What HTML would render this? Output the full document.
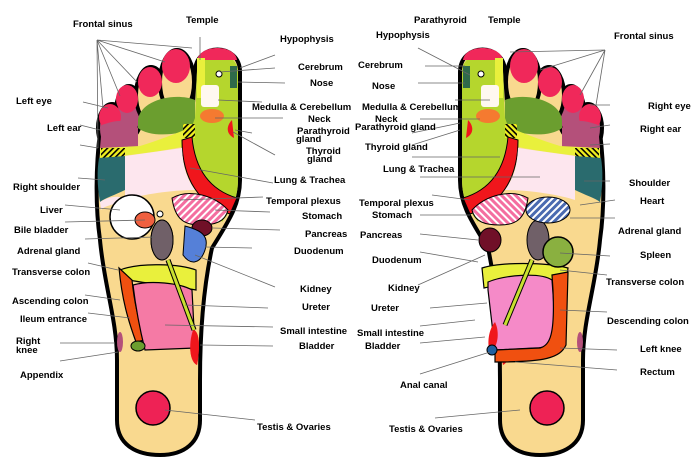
<!DOCTYPE html>
<html><head><meta charset="utf-8"><style>
html,body{margin:0;padding:0;background:#fff;}
svg{display:block;}
text{font-family:"Liberation Sans",sans-serif;font-weight:bold;font-size:9.5px;fill:#000;}
.l{stroke:#666;stroke-width:0.8;fill:none;}
</style></head><body>
<svg width="700" height="470" viewBox="0 0 700 470" xmlns="http://www.w3.org/2000/svg">
<defs>
<pattern id="hat" width="5" height="5" patternUnits="userSpaceOnUse" patternTransform="rotate(45)">
<rect width="5" height="5" fill="#f46ea0"/><rect width="2" height="5" fill="#fff"/></pattern>
<pattern id="hat2" width="5" height="5" patternUnits="userSpaceOnUse" patternTransform="rotate(45)">
<rect width="5" height="5" fill="#4a6ab0"/><rect width="2" height="5" fill="#fff"/></pattern>
<pattern id="yb" width="4" height="4" patternUnits="userSpaceOnUse" patternTransform="rotate(45)">
<rect width="4" height="4" fill="#f0f020"/><rect width="1.6" height="4" fill="#000"/></pattern>
<g id="foot">
 <path d="M100,132 C96,165 95,205 100,240 C104,285 117,320 117,360 L117,420 C117,446 138,455 160,455 C185,455 200,442 200,420 L200,380 C200,330 204,285 212,248 C228,222 240,205 240,180 L240,72 C240,42 195,42 195,72 L192,118 C170,128 125,122 100,132 Z" fill="#f9d98f" stroke="#000" stroke-width="4"/>
 <ellipse cx="112" cy="128" rx="14" ry="24" fill="#b4507a" stroke="#000" stroke-width="4"/>
 <ellipse cx="129" cy="112" rx="13" ry="26" fill="#b4507a" stroke="#000" stroke-width="4"/>
 <ellipse cx="151" cy="95" rx="15" ry="28" fill="#f9d98f" stroke="#000" stroke-width="4"/>
 <ellipse cx="177" cy="82" rx="17" ry="32" fill="#f9d98f" stroke="#000" stroke-width="4"/>
 <ellipse cx="110" cy="117" rx="11" ry="13" fill="#f0285a"/>
 <ellipse cx="127" cy="99" rx="11" ry="14" fill="#f0285a"/>
 <ellipse cx="150" cy="82" rx="12" ry="15" fill="#f0285a"/>
 <ellipse cx="176" cy="66" rx="14" ry="17" fill="#f0285a"/>
 <path d="M138,120 C140,100 175,92 195,100 L195,128 C180,135 150,138 138,128 Z" fill="#6b9e2f"/>
 <path d="M102,125 C115,120 130,118 138,128 L138,148 L100,148 Z" fill="#b4507a"/>
 <path d="M100,148 L140,146 C160,140 180,132 196,125 L186,146 C160,152 130,155 100,158 Z" fill="#e9f03c"/>
 <rect x="101" y="148" width="24" height="10" fill="url(#yb)"/>
 <path d="M197,70 C197,48 238,48 238,72 L238,180 C238,200 230,212 222,222 L185,145 L195,118 Z" fill="#b5d62d"/>
 <path d="M197,60 C200,44 235,44 237,60 Z" fill="#f0285a"/>
 <rect x="197" y="58" width="8" height="40" fill="#e9f03c"/>
 <rect x="230" y="66" width="7" height="22" fill="#2f6a4a"/>
 <rect x="201" y="85" width="18" height="22" rx="3" fill="#fff8f0"/>
 <ellipse cx="212" cy="116" rx="12" ry="7" fill="#f57a30"/>
 <circle cx="219" cy="74" r="3" fill="#fff" stroke="#000"/>
 <path d="M232,120 C226,126 226,134 234,138 Z" fill="#f0161c"/>
 <rect x="183" y="124" width="12" height="14" fill="url(#yb)"/>
 <path d="M182,140 L192,137 C195,170 210,190 237,198 L230,214 C200,205 182,180 182,140 Z" fill="#f0161c" stroke="#000" stroke-width="1"/>
 <path d="M99,158 L125,156 L125,190 C115,195 105,198 100,202 C97,185 97,170 99,158 Z" fill="#2a6b6e"/>
 <path d="M125,156 L182,148 C183,170 188,180 195,190 C170,190 140,195 125,200 Z" fill="#fde6ee"/>
 <path d="M172,198 C190,188 215,196 228,210 C225,222 215,225 200,225 C185,225 175,220 172,198 Z" fill="url(#hat)" stroke="#000" stroke-width="1"/>
 <ellipse cx="162" cy="240" rx="11" ry="20" fill="#706068" stroke="#000" stroke-width="1"/>
 <circle cx="160" cy="214" r="3" fill="#fff" stroke="#000"/>
 <line x1="168" y1="260" x2="194" y2="330" stroke="#000" stroke-width="5"/>
 <line x1="168" y1="260" x2="194" y2="330" stroke="#c8e030" stroke-width="3"/>
 <path d="M193,330 C200,330 200,350 197,365 C190,362 188,345 193,330 Z" fill="#f0161c"/>
 <ellipse cx="120" cy="342" rx="3" ry="10" fill="#b4507a"/>
 <circle cx="153" cy="408" r="17" fill="#ee2255" stroke="#000" stroke-width="1.5"/>
</g>
</defs>
<use href="#foot"/>
<use href="#foot" transform="translate(700,0) scale(-1,1)"/>
<!-- left specific -->
<path d="M100,202 C110,196 120,195 125,200 C115,205 105,205 101,210 Z" fill="#fde6ee"/>
<circle cx="132" cy="217" r="22" fill="#fff" stroke="#000" stroke-width="1.5"/>
<ellipse cx="145" cy="220" rx="10" ry="8" fill="#f06040" stroke="#000" stroke-width="1"/>
<ellipse cx="202" cy="228" rx="10" ry="8" fill="#701028" stroke="#000" stroke-width="1"/>
<path d="M185,226 C200,230 210,235 205,250 C200,265 190,265 183,255 Z" fill="#5580d8" stroke="#000" stroke-width="1"/>
<ellipse cx="162" cy="240" rx="11" ry="20" fill="#706068" stroke="#000" stroke-width="1"/>
<path d="M120,270 C140,262 180,264 196,270 L196,290 C170,285 140,283 130,280 Z" fill="#e9f03c" stroke="#000" stroke-width="1.2"/>
<path d="M119,268 L132,280 C134,300 138,320 145,340 L136,342 C128,320 122,300 119,268 Z" fill="#f05010" stroke="#000" stroke-width="1.2"/>
<path d="M133,285 C150,280 180,283 192,290 L195,348 L145,350 C140,330 136,310 133,285 Z" fill="#f57aa5" stroke="#000" stroke-width="1.2"/>
<line x1="168" y1="260" x2="194" y2="330" stroke="#000" stroke-width="5"/>
<line x1="168" y1="260" x2="194" y2="330" stroke="#c8e030" stroke-width="3"/>
<path d="M193,330 C200,330 200,350 197,365 C190,362 188,345 193,330 Z" fill="#f0161c"/>
<ellipse cx="138" cy="346" rx="7" ry="5" fill="#6b9e2f" stroke="#000" stroke-width="1"/>
<!-- right specific -->
<ellipse cx="490" cy="240" rx="11" ry="12" fill="#701028" stroke="#000" stroke-width="1"/>
<path d="M482,268 C500,262 545,262 568,268 L566,286 C540,282 505,283 484,288 Z" fill="#e9f03c" stroke="#000" stroke-width="1.2"/>
<path d="M488,282 C505,275 540,272 552,280 L556,335 C552,345 545,348 535,348 L495,350 L488,290 Z" fill="#f58ac8" stroke="#000" stroke-width="1.2"/>
<path d="M552,275 L568,272 L566,345 C560,358 545,362 495,362 L495,350 L540,348 C550,345 555,335 553,290 Z" fill="#f05010" stroke="#000" stroke-width="1.2"/>
<line x1="532" y1="260" x2="505" y2="325" stroke="#000" stroke-width="5"/>
<line x1="532" y1="260" x2="505" y2="325" stroke="#c8e030" stroke-width="3"/>
<path d="M495,322 C488,330 487,345 490,352 C498,348 500,332 495,322 Z" fill="#f0161c"/>
<ellipse cx="548" cy="210" rx="22" ry="13" fill="url(#hat2)" stroke="#000" stroke-width="1"/>
<circle cx="558" cy="252" r="15" fill="#8ab040" stroke="#000" stroke-width="1.5"/>
<circle cx="492" cy="350" r="5" fill="#2060a0" stroke="#000"/>
<!-- leader lines -->
<g class="l">
<path d="M97,40 L192,48 M97,40 L165,62 M97,40 L137,82 M97,40 L120,96 M97,40 L103,108 M97,40 L98,148"/>
<path d="M200,37 L200,60 M275,55 L240,68 M275,68 L220,72 M285,83 L238,82 M262,102 L218,100 M283,118 L215,118 M252,133 L235,130 M275,155 L233,132 M273,183 L190,168 M263,197 L180,200 M270,212 L215,210 M280,230 L213,228 M252,248 L205,247 M275,287 L195,255 M268,308 L185,305 M273,327 L165,325 M273,346 L200,345 M255,420 L165,410"/>
<path d="M83,102 L108,108 M80,125 L100,130 M80,145 L98,148 M78,178 L105,180 M65,205 L120,210 M65,222 L145,220 M85,239 L155,237 M88,263 L118,270 M85,295 L120,300 M88,313 L130,318 M60,343 L115,343 M60,361 L118,352"/>
<path d="M605,50 L510,52 M605,50 L540,70 M605,50 L580,95 M605,50 L596,105 M590,105 L610,105 M590,128 L610,125 M590,145 L610,144 M584,181 L610,181 M580,205 L615,200 M570,218 L615,218 M560,253 L610,256 M560,270 L607,275 M560,310 L607,312 M560,348 L617,350 M515,362 L617,370"/>
<path d="M418,48 L470,75 M425,66 L465,66 M418,83 L465,83 M455,100 L490,100 M420,119 L480,119 M412,133 L460,123 M412,145 L460,130 M412,157 L500,157 M420,177 L540,177 M432,195 L470,200 M420,215 L470,215 M420,234 L478,240 M420,252 L478,262 M418,285 L485,255 M430,308 L487,303 M420,326 L475,320 M420,343 L485,337 M420,374 L490,352 M435,418 L520,410"/>
</g>
<text x="73" y="27">Frontal sinus</text>
<text x="186" y="23">Temple</text>
<text x="280" y="42">Hypophysis</text>
<text x="298" y="70">Cerebrum</text>
<text x="310" y="86">Nose</text>
<text x="252" y="110">Medulla &amp; Cerebellum</text>
<text x="308" y="122">Neck</text>
<text x="297" y="134">Parathyroid</text>
<text x="296" y="142">gland</text>
<text x="306" y="154">Thyroid</text>
<text x="307" y="162">gland</text>
<text x="274" y="183">Lung &amp; Trachea</text>
<text x="266" y="204">Temporal plexus</text>
<text x="302" y="219">Stomach</text>
<text x="305" y="237">Pancreas</text>
<text x="294" y="254">Duodenum</text>
<text x="300" y="292">Kidney</text>
<text x="302" y="310">Ureter</text>
<text x="280" y="334">Small intestine</text>
<text x="299" y="349">Bladder</text>
<text x="257" y="430">Testis &amp; Ovaries</text>
<text x="16" y="104">Left eye</text>
<text x="47" y="131">Left ear</text>
<text x="13" y="190">Right shoulder</text>
<text x="40" y="213">Liver</text>
<text x="14" y="233">Bile bladder</text>
<text x="17" y="254">Adrenal gland</text>
<text x="12" y="275">Transverse colon</text>
<text x="12" y="304">Ascending colon</text>
<text x="20" y="322">Ileum entrance</text>
<text x="16" y="344">Right</text>
<text x="16" y="353">knee</text>
<text x="20" y="378">Appendix</text>
<text x="414" y="23">Parathyroid</text>
<text x="488" y="23">Temple</text>
<text x="376" y="38">Hypophysis</text>
<text x="614" y="39">Frontal sinus</text>
<text x="358" y="68">Cerebrum</text>
<text x="372" y="89">Nose</text>
<text x="362" y="110">Medulla &amp; Cerebellum</text>
<text x="375" y="122">Neck</text>
<text x="355" y="130">Parathyroid gland</text>
<text x="365" y="150">Thyroid gland</text>
<text x="383" y="172">Lung &amp; Trachea</text>
<text x="648" y="109">Right eye</text>
<text x="640" y="132">Right ear</text>
<text x="629" y="186">Shoulder</text>
<text x="640" y="204">Heart</text>
<text x="359" y="206">Temporal plexus</text>
<text x="372" y="218">Stomach</text>
<text x="360" y="238">Pancreas</text>
<text x="618" y="234">Adrenal gland</text>
<text x="640" y="258">Spleen</text>
<text x="372" y="263">Duodenum</text>
<text x="606" y="285">Transverse colon</text>
<text x="388" y="291">Kidney</text>
<text x="371" y="311">Ureter</text>
<text x="607" y="324">Descending colon</text>
<text x="357" y="336">Small intestine</text>
<text x="365" y="349">Bladder</text>
<text x="640" y="352">Left knee</text>
<text x="640" y="375">Rectum</text>
<text x="400" y="388">Anal canal</text>
<text x="389" y="432">Testis &amp; Ovaries</text>
</svg>
</body></html>
